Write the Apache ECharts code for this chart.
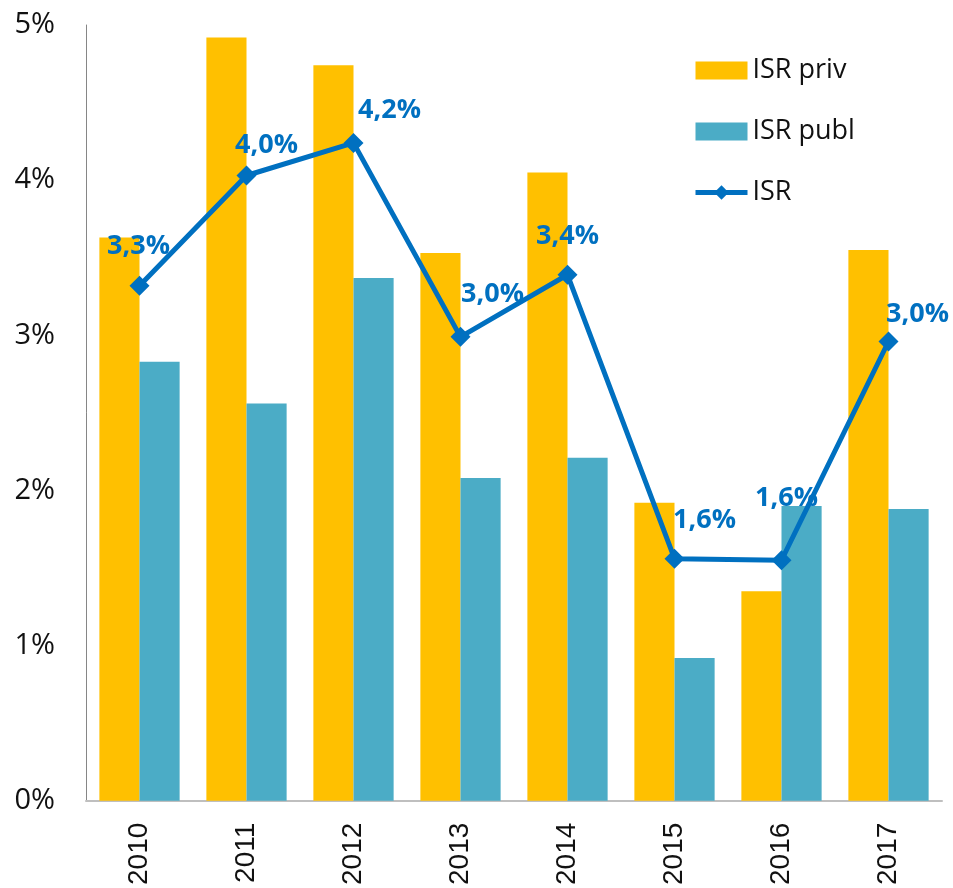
<!DOCTYPE html>
<html>
<head>
<meta charset="utf-8">
<script src="https://cdn.jsdelivr.net/npm/echarts@6/dist/echarts.min.js"></script>
<style>
  html, body { margin: 0; padding: 0; background: #fff; }
  #chart { width: 953px; height: 888px; }
</style>
</head>
<body>
<div id="chart"></div>
<script>
// data (percent)
const years = ["2010", "2011", "2012", "2013", "2014", "2015", "2016", "2017"];
const isrPriv = [3.63, 4.92, 4.74, 3.53, 4.05, 1.92, 1.35, 3.55];
const isrPubl = [2.83, 2.56, 3.37, 2.08, 2.21, 0.92, 1.90, 1.88];
const isr = [3.32, 4.03, 4.24, 2.99, 3.39, 1.56, 1.55, 2.96];

// where each ISR label sits relative to its point (px)
const labelOffsets = [[-1, -39], [20, -30], [36, -33], [32, -43], [0, -38], [30, -38], [5, -62], [29, -27]];

const font = "'Open Sans', 'Noto Sans', sans-serif";
const myChart = echarts.init(document.getElementById("chart"));

const option = {
  backgroundColor: "#fff",
  animation: false,
  textStyle: { fontFamily: font },
  grid: { left: 86, right: 11, top: 25, bottom: 87 },
  legend: {
    orient: "vertical",
    left: 688,
    top: 52,
    itemWidth: 52,
    itemHeight: 18,
    itemGap: 34,
    textStyle: { fontSize: 27, color: "#111", fontFamily: font },
    data: [
      { name: "ISR priv", icon: "rect" },
      { name: "ISR publ", icon: "rect" },
      { name: "ISR", lineStyle: { width: 5 } },
    ],
  },
  xAxis: {
    type: "category",
    data: years,
    axisLine: { lineStyle: { color: "#bfbfbf", width: 2 } },
    axisTick: { show: false },
    axisLabel: {
      rotate: 90,
      margin: 22,
      fontSize: 28,
      color: "#111",
      fontFamily: "'Liberation Sans', Arial, sans-serif",
    },
  },
  yAxis: {
    type: "value",
    min: 0,
    max: 5,
    interval: 1,
    splitLine: { show: false },
    axisLine: { show: true, lineStyle: { color: "#868686", width: 1 } },
    axisTick: { show: false },
    axisLabel: {
      formatter: "{value}%",
      margin: 31,
      fontSize: 29,
      color: "#111",
      fontFamily: font,
    },
  },
  series: [
    {
      name: "ISR priv",
      type: "bar",
      data: isrPriv,
      barGap: "0%",
      barCategoryGap: "25%",
      itemStyle: { color: "#FFC000" },
    },
    {
      name: "ISR publ",
      type: "bar",
      data: isrPubl,
      itemStyle: { color: "#4BACC6" },
    },
    {
      name: "ISR",
      type: "line",
      z: 5,
      data: isr.map((v, i) => ({
        value: v,
        label: { offset: labelOffsets[i] },
      })),
      symbol: "diamond",
      symbolSize: 20,
      lineStyle: { color: "#0070C0", width: 5 },
      itemStyle: { color: "#0070C0" },
      label: {
        show: true,
        position: "inside",
        fontSize: 27,
        fontWeight: "bold",
        color: "#0070C0",
        fontFamily: font,
        formatter: (p) => p.value.toFixed(1).replace(".", ",") + "%",
      },
    },
  ],
};
myChart.setOption(option);
</script>
</body>
</html>
